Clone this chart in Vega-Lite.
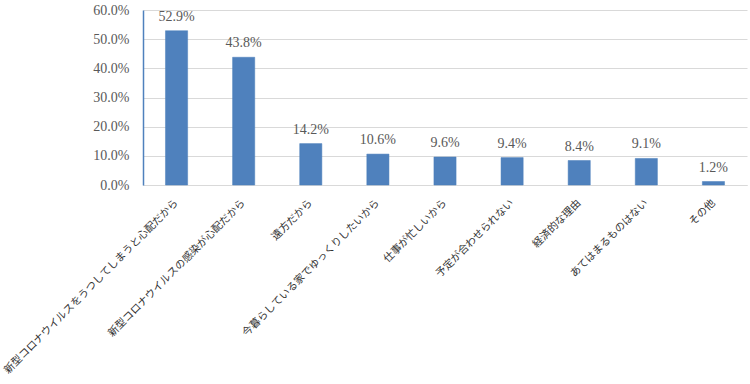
{
  "$schema": "https://vega.github.io/schema/vega-lite/v6.json",
  "width": 604,
  "height": 175,
  "padding": {"left": 143, "top": 10, "right": 3, "bottom": 199},
  "autosize": {"type": "none"},
  "background": "white",
  "data": {"values": [
    {"reason": "新型コロナウイルスをうつしてしまうと心配だから", "pct": 0.529},
    {"reason": "新型コロナウイルスの感染が心配だから", "pct": 0.438},
    {"reason": "遠方だから", "pct": 0.142},
    {"reason": "今暮らしている家でゆっくりしたいから", "pct": 0.106},
    {"reason": "仕事が忙しいから", "pct": 0.096},
    {"reason": "予定が合わせられない", "pct": 0.094},
    {"reason": "経済的な理由", "pct": 0.084},
    {"reason": "あてはまるものはない", "pct": 0.091},
    {"reason": "その他", "pct": 0.012}
  ]},
  "encoding": {
    "x": {"field": "reason", "type": "nominal", "sort": null,
      "scale": {"paddingInner": 0.67, "paddingOuter": 0.335},
      "axis": {"title": null, "labelAngle": -45, "labelAlign": "right", "labelBaseline": "middle",
        "labelFont": "Noto Sans CJK JP", "labelFontSize": 10.5, "labelColor": "#333333",
        "labelPadding": 16, "ticks": false, "domainColor": "#D9D9D9", "labelLimit": 400, "grid": false,
        "labelOverlap": false}},
    "y": {"field": "pct", "type": "quantitative",
      "scale": {"domain": [0, 0.6]},
      "axis": {"title": null, "format": ".1%", "values": [0, 0.1, 0.2, 0.3, 0.4, 0.5, 0.6],
        "labelFont": "Liberation Serif", "labelFontSize": 14, "labelColor": "#595959",
        "labelPadding": 14, "ticks": false, "domainColor": "#4F81BD", "domainWidth": 1.5,
        "grid": true, "gridColor": "#D9D9D9", "gridWidth": 1, "labelOverlap": false}}
  },
  "layer": [
    {"mark": {"type": "bar", "color": "#4F81BD", "stroke": "#4A7EBB", "strokeWidth": 0.5}},
    {"mark": {"type": "text", "baseline": "bottom", "dy": -7, "font": "Liberation Serif", "fontSize": 14, "color": "#595959"},
     "encoding": {"text": {"field": "pct", "type": "quantitative", "format": ".1%"}}}
  ],
  "config": {"view": {"stroke": null}}
}
